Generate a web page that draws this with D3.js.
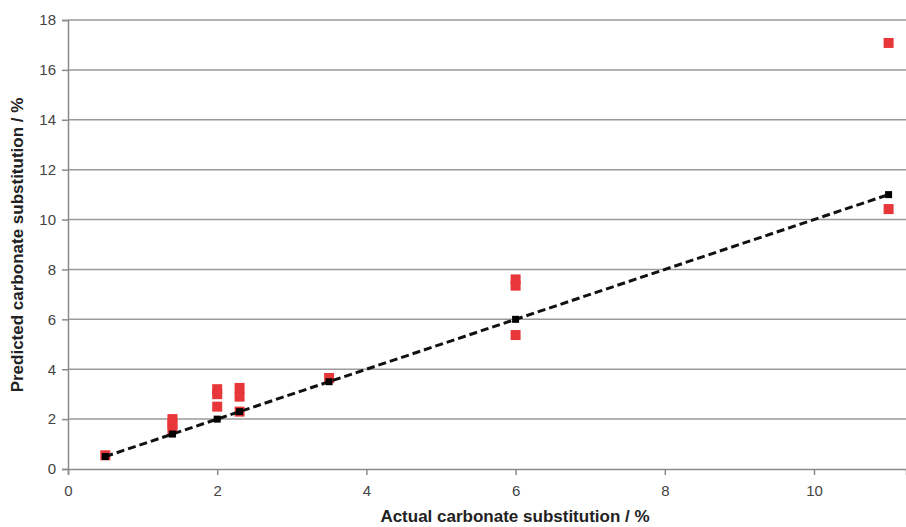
<!DOCTYPE html>
<html>
<head>
<meta charset="utf-8">
<script src="https://cdn.jsdelivr.net/npm/d3@7"></script>
<style>
  body { margin: 0; background: #fff; }
  svg { display: block; font-family: "Liberation Sans", Arial, sans-serif; }
</style>
</head>
<body>
<div id="main"></div>
<script>
// ideal line (actual == predicted)
const lineX = [0.5, 1.4, 2, 2.3, 3.5, 6, 11];
const lineY = [0.5, 1.4, 2, 2.3, 3.5, 6, 11];

// predicted values (red squares)
const predX = [0.5, 1.4, 1.4, 1.4, 2, 2, 2, 2.3, 2.3, 2.3, 3.5, 6, 6, 6, 11, 11];
const predY = [0.55, 2.0, 1.8, 1.6, 3.2, 3.0, 2.5, 3.25, 2.9, 2.3, 3.65, 7.6, 7.35, 5.37, 17.08, 10.42];

const yTicks = [0, 2, 4, 6, 8, 10, 12, 14, 16, 18];
const xTicks = [0, 2, 4, 6, 8, 10];

const W = 906, H = 527;
const m = { left: 68, right: 0, top: 20, bottom: 58 };

const svg = d3.select('#main').append('svg').attr('width', W).attr('height', H);

const x = d3.scaleLinear().domain([0, (W - m.left - m.right) / 74.6]).range([m.left, W - m.right]);
const y = d3.scaleLinear().domain([0, 18]).range([H - m.bottom, m.top]);

// grid
svg.append('g')
    .selectAll('line')
    .data(yTicks.slice(1))
    .enter()
    .append('line')
    .attr('x1', m.left).attr('x2', W - m.right)
    .attr('y1', d => y(d)).attr('y2', d => y(d))
    .attr('stroke', '#9a9a9a').attr('stroke-width', 1.5);

// y axis
const yAxis = svg.append('g')
    .attr('transform', 'translate(' + m.left + ',0)')
    .call(d3.axisLeft(y).tickValues(yTicks).tickSize(6).tickPadding(6));
yAxis.select('.domain').attr('stroke', '#8a8a8a').attr('stroke-width', 1.5);
yAxis.selectAll('.tick line').attr('stroke', '#8a8a8a').attr('stroke-width', 1.5);
yAxis.selectAll('text').attr('font-size', 15).attr('fill', '#444');

// x axis
const xAxis = svg.append('g')
    .attr('transform', 'translate(0,' + y(0) + ')')
    .call(d3.axisBottom(x).tickValues(xTicks).tickSize(6).tickPadding(10));
xAxis.select('.domain').attr('stroke', '#8a8a8a').attr('stroke-width', 1.5);
xAxis.selectAll('.tick line').attr('stroke', '#8a8a8a').attr('stroke-width', 1.5);
xAxis.selectAll('text').attr('font-size', 15).attr('fill', '#444');

// red squares
const rs = 10;
svg.append('g')
    .selectAll('rect')
    .data(predX.map((d, i) => [d, predY[i]]))
    .enter()
    .append('rect')
    .attr('x', d => x(d[0]) - rs / 2)
    .attr('y', d => y(d[1]) - rs / 2)
    .attr('width', rs).attr('height', rs)
    .attr('fill', '#e8373a');

// dashed line
const pts = lineX.map((d, i) => [d, lineY[i]]);
svg.append('path')
    .datum(pts)
    .attr('d', d3.line().x(d => x(d[0])).y(d => y(d[1])))
    .attr('fill', 'none')
    .attr('stroke', '#111')
    .attr('stroke-width', 3)
    .attr('stroke-dasharray', '8,4');

const bs = 7;
svg.append('g')
    .selectAll('rect')
    .data(pts)
    .enter()
    .append('rect')
    .attr('x', d => x(d[0]) - bs / 2)
    .attr('y', d => y(d[1]) - bs / 2)
    .attr('width', bs).attr('height', bs)
    .attr('fill', '#000');

// titles
svg.append('text')
    .attr('x', 515).attr('y', 522)
    .attr('text-anchor', 'middle')
    .attr('font-size', 17).attr('font-weight', 'bold').attr('fill', '#222')
    .text('Actual carbonate substitution / %');

svg.append('text')
    .attr('transform', 'translate(23,' + 245 + ') rotate(-90)')
    .attr('text-anchor', 'middle')
    .attr('font-size', 17).attr('font-weight', 'bold').attr('fill', '#222')
    .text('Predicted carbonate substitution / %');
</script>
</body>
</html>
